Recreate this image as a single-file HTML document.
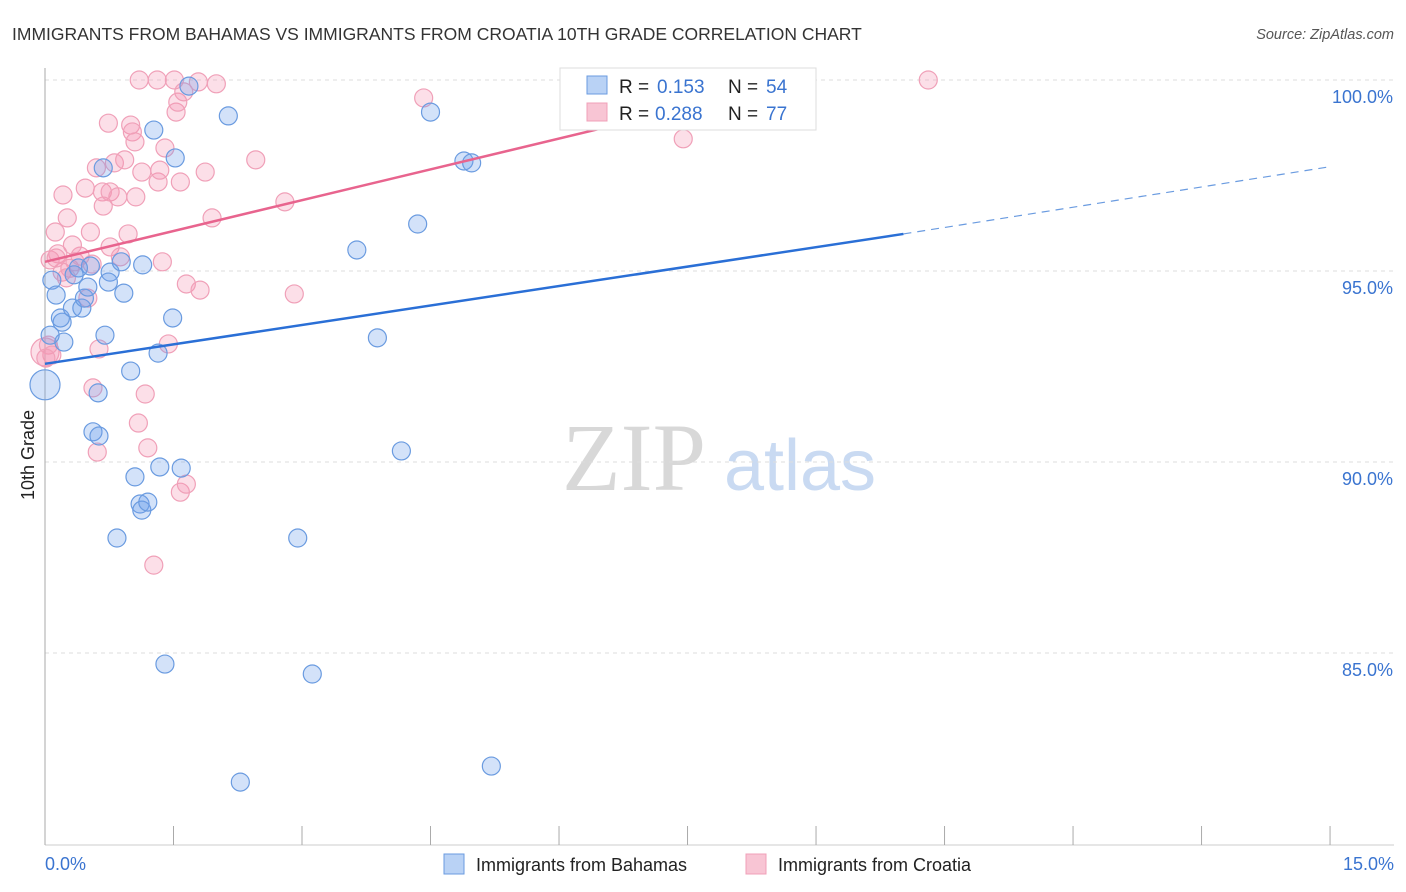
<!DOCTYPE html>
<html><head><meta charset="utf-8"><style>
body{margin:0;background:#fff;font-family:"Liberation Sans",sans-serif}
svg{display:block}
</style></head><body>
<svg id="chart" width="1406" height="892">
<text x="12" y="40" font-size="17.5" fill="#333">IMMIGRANTS FROM BAHAMAS VS IMMIGRANTS FROM CROATIA 10TH GRADE CORRELATION CHART</text>
<text x="1394" y="39" font-size="14.5" fill="#555" font-style="italic" text-anchor="end">Source: ZipAtlas.com</text>
<text x="634" y="490" font-size="96" fill="#d8d8d8" text-anchor="middle" font-family="Liberation Serif,serif">ZIP</text>
<text x="800" y="490" font-size="72" fill="#c9daf2" text-anchor="middle">atlas</text>
<g id="grid"></g><g id="axes"></g><g id="pts"></g><g id="lines"></g>
<text transform="translate(34,455) rotate(-90)" font-size="18" fill="#222" text-anchor="middle">10th Grade</text>
<g>
<rect x="560" y="68" width="256" height="62" fill="#fff" stroke="#ddd"/>
<rect x="587" y="76" width="20" height="18" fill="#b9d2f5" stroke="#6a9be0"/>
<text x="619" y="93" font-size="19" fill="#222">R = </text><text x="657" y="93" font-size="19" fill="#3a74d0">0.153</text>
<text x="728" y="93" font-size="19" fill="#222">N = </text><text x="766" y="93" font-size="19" fill="#3a74d0">54</text>
<rect x="587" y="103" width="20" height="18" fill="#f8c5d4" stroke="#f0a0b8"/>
<text x="619" y="120" font-size="19" fill="#222">R = </text><text x="655" y="120" font-size="19" fill="#3a74d0">0.288</text>
<text x="728" y="120" font-size="19" fill="#222">N = </text><text x="766" y="120" font-size="19" fill="#3a74d0">77</text>
</g>
<g>
<rect x="444" y="854" width="20" height="20" fill="#b9d2f5" stroke="#6a9be0"/>
<text x="476" y="871" font-size="18" fill="#222">Immigrants from Bahamas</text>
<rect x="746" y="854" width="20" height="20" fill="#f8c5d4" stroke="#f0a0b8"/>
<text x="778" y="871" font-size="18" fill="#222">Immigrants from Croatia</text>
</g>
</svg>
<script>
const blueX=[0,.08,.13,.20,.22,.18,.32,.43,.46,.50,.53,.39,.34,.68,.76,.74,.89,.92,.70,.62,.56,.63,1.00,1.05,1.11,1.13,1.20,.84,1.34,1.59,1.32,1.49,1.14,1.27,1.52,1.68,2.14,1.40,2.28,2.95,3.12,3.64,3.88,4.16,4.35,4.50,4.89,4.98,5.21,6.85,8.85,.06];
const blueY=[92.02,94.76,94.37,93.66,93.14,93.77,94.03,94.03,94.29,94.58,95.13,95.08,94.90,97.70,94.97,94.71,95.24,94.42,93.32,91.81,90.79,90.68,92.38,89.61,88.90,88.74,88.95,88.01,89.87,89.84,92.85,93.77,95.16,98.69,97.96,99.84,99.06,84.71,81.62,88.01,84.45,95.55,93.25,90.29,96.23,99.16,97.88,97.83,82.04,100,100,93.32];
const pinkX=[0,.04,.08,.12,.15,.21,.26,.20,.29,.35,.41,.47,.50,.53,.55,.60,.63,.61,.56,.67,.68,.74,.76,.76,.81,.85,.93,.97,1.00,1.02,1.05,1.06,1.13,1.09,1.17,1.20,1.27,1.10,1.31,1.32,1.34,1.37,1.40,1.44,1.51,1.53,1.55,1.58,1.58,1.65,1.65,1.62,1.81,1.87,1.79,2.00,1.95,2.46,2.80,2.91,4.42,7.45,10.31,.25,.32,.88,.06,.13,.01];
const pinkY=[92.88,93.06,92.80,96.02,95.45,96.99,96.39,94.97,95.07,95.24,95.39,97.17,94.29,96.02,95.18,97.70,92.96,90.26,91.94,97.07,96.70,98.87,95.63,97.07,97.83,96.94,97.91,95.97,98.82,98.64,98.38,96.94,97.59,91.02,91.78,90.37,87.30,100,100,97.33,97.64,95.24,98.22,93.09,100,99.16,99.42,97.33,89.21,89.42,94.66,99.69,94.50,97.59,99.95,99.90,96.39,97.91,96.81,94.40,99.53,98.46,100,94.82,95.68,95.37,95.29,95.34,92.72];
const yTicks=[100,95,90,85];
const yTickLabels=["100.0%","95.0%","90.0%","85.0%"];
const xTicks=[0,1.5,3,4.5,6,7.5,9,10.5,12,13.5,15];
const blueTrend=[[0,92.57],[10.02,95.97],[15,97.73]];
const pinkTrend=[[0,95.24],[8.85,100]];
const NS="http://www.w3.org/2000/svg";
const sx=v=>45+v*85.67, sy=v=>80+(100-v)*38.2;
function mk(p,t,a){const e=document.createElementNS(NS,t);for(const k in a)e.setAttribute(k,a[k]);document.getElementById(p).appendChild(e);return e;}
yTicks.forEach((t,i)=>{
 const g=mk('grid','line',{x1:45,x2:1394,y1:sy(t),y2:sy(t),stroke:'#ddd','stroke-dasharray':'4,4'});
 
 
 const l=mk('grid','text',{x:1393,y:sy(t)+23,'font-size':18,fill:'#3a74d0','text-anchor':'end'});
 l.textContent=yTickLabels[i];
 
 
});
const ax=mk('axes','line',{x1:45,x2:45,y1:68,y2:845,stroke:'#aaa'});


const bx=mk('axes','line',{x1:45,x2:1394,y1:845,y2:845,stroke:'#ccc'});


xTicks.forEach(t=>{
 const k=mk('axes','line',{x1:sx(t),x2:sx(t),y1:826,y2:845,stroke:'#aaa'});
 
 
});
const x0=mk('axes','text',{x:45,y:870,'font-size':18,fill:'#3a74d0'});x0.textContent='0.0%';


const x1=mk('axes','text',{x:1394,y:870,'font-size':18,fill:'#3a74d0','text-anchor':'end'});x1.textContent='15.0%';


pinkX.forEach((v,i)=>{
 const c=mk('pts','circle',{cx:sx(v),cy:sy(pinkY[i]),r:i==0?14:9,fill:'rgba(244,150,178,0.3)',stroke:'#f0a0b8','stroke-width':1.2});
 
 
});
blueX.forEach((v,i)=>{
 const c=mk('pts','circle',{cx:sx(v),cy:sy(blueY[i]),r:i==0?15:9,fill:'rgba(110,160,235,0.3)',stroke:'#6a9be0','stroke-width':1.2});
 
 
});
const b1=mk('lines','line',{x1:sx(blueTrend[0][0]),y1:sy(blueTrend[0][1]),x2:sx(blueTrend[1][0]),y2:sy(blueTrend[1][1]),stroke:'#2a6fd6','stroke-width':2.5});


const b2=mk('lines','line',{x1:sx(blueTrend[1][0]),y1:sy(blueTrend[1][1]),x2:sx(blueTrend[2][0]),y2:sy(blueTrend[2][1]),stroke:'#6a9be0','stroke-width':1.2,'stroke-dasharray':'8,6'});


const p1=mk('lines','line',{x1:sx(pinkTrend[0][0]),y1:sy(pinkTrend[0][1]),x2:sx(pinkTrend[1][0]),y2:sy(pinkTrend[1][1]),stroke:'#e8648e','stroke-width':2.5});


</script>
</body></html>
